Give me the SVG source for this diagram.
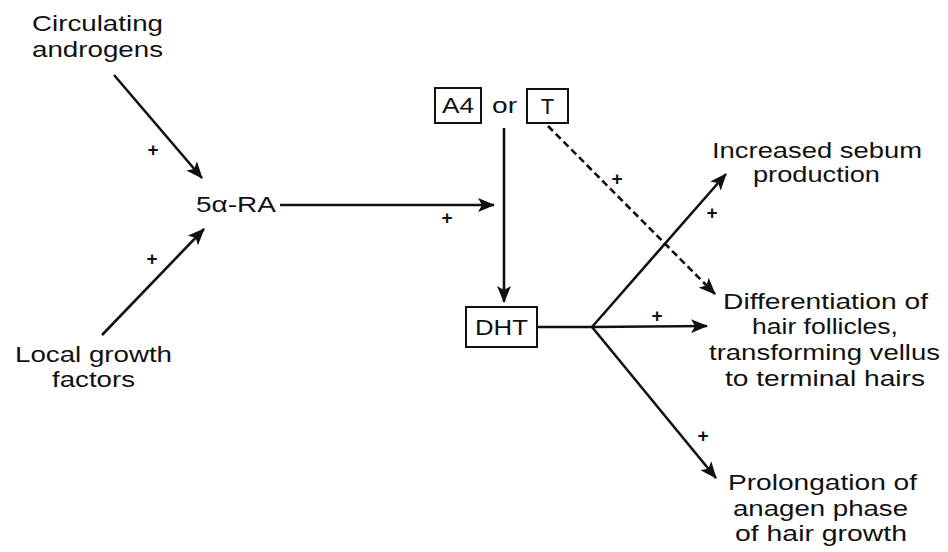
<svg xmlns="http://www.w3.org/2000/svg" width="948" height="552" viewBox="0 0 948 552">
<style>
text{font-family:"Liberation Sans",Arial,sans-serif;font-size:22px;fill:#111;text-anchor:middle}
.p{font-size:19px;font-weight:bold}
.ln{stroke:#111;stroke-width:2.6;fill:none}
.dash{stroke-dasharray:7 4}
.box{fill:#fff;stroke:#111;stroke-width:2}
</style>
<defs>
<marker id="ah" markerUnits="userSpaceOnUse" markerWidth="18" markerHeight="14" viewBox="0 0 18 14" refX="16" refY="7" orient="auto">
<path d="M0,0 L17,7 L0,14 L4,7 z" fill="#111"/>
</marker>
</defs>
<rect width="948" height="552" fill="#fff"/>
<g id="connectors">
<line class="ln" x1="114" y1="75" x2="202" y2="178" marker-end="url(#ah)"/>
<line class="ln" x1="102" y1="335" x2="204" y2="229" marker-end="url(#ah)"/>
<line class="ln" x1="280" y1="205" x2="494" y2="205" marker-end="url(#ah)"/>
<line class="ln" x1="504" y1="128" x2="504" y2="302" marker-end="url(#ah)"/>
<line class="ln dash" x1="548" y1="126" x2="715" y2="294" marker-end="url(#ah)"/>
<polyline class="ln" points="537,327 592,327"/>
<line class="ln" x1="592" y1="327" x2="726" y2="174" marker-end="url(#ah)"/>
<line class="ln" x1="592" y1="327" x2="707" y2="326" marker-end="url(#ah)"/>
<line class="ln" x1="592" y1="327" x2="716" y2="478" marker-end="url(#ah)"/>
<text class="p" x="153" y="156">+</text>
<text class="p" x="152" y="265">+</text>
<text class="p" x="447" y="224">+</text>
<text class="p" x="617" y="185">+</text>
<text class="p" x="712" y="219">+</text>
<text class="p" x="657" y="322">+</text>
<text class="p" x="703" y="442">+</text>
</g>
<g id="circulating">
<text x="97.5" y="31" textLength="131" lengthAdjust="spacingAndGlyphs">Circulating</text>
<text x="97.5" y="57" textLength="131" lengthAdjust="spacingAndGlyphs">androgens</text>
</g>
<g id="local">
<text x="93.5" y="362" textLength="157" lengthAdjust="spacingAndGlyphs">Local growth</text>
<text x="93.5" y="387" textLength="83" lengthAdjust="spacingAndGlyphs">factors</text>
</g>
<g id="ra">
<text x="236" y="212" textLength="80" lengthAdjust="spacingAndGlyphs">5α-RA</text>
</g>
<g id="a4">
<rect class="box" x="435" y="88" width="46" height="35"/>
<text x="458" y="113" textLength="32" lengthAdjust="spacingAndGlyphs">A4</text>
</g>
<g id="or">
<text x="504.5" y="113" textLength="25" lengthAdjust="spacingAndGlyphs">or</text>
</g>
<g id="t">
<rect class="box" x="527" y="89" width="41" height="34"/>
<text x="547.5" y="114">T</text>
</g>
<g id="dht">
<rect class="box" x="466" y="307" width="71" height="40"/>
<text x="501.5" y="335" textLength="53" lengthAdjust="spacingAndGlyphs">DHT</text>
</g>
<g id="sebum">
<text x="817" y="158" textLength="210" lengthAdjust="spacingAndGlyphs">Increased sebum</text>
<text x="816.5" y="182" textLength="127" lengthAdjust="spacingAndGlyphs">production</text>
</g>
<g id="differentiation">
<text x="825.5" y="309" textLength="205" lengthAdjust="spacingAndGlyphs">Differentiation of</text>
<text x="825" y="334" textLength="146" lengthAdjust="spacingAndGlyphs">hair follicles,</text>
<text x="824.5" y="360" textLength="231" lengthAdjust="spacingAndGlyphs">transforming vellus</text>
<text x="825" y="386" textLength="200" lengthAdjust="spacingAndGlyphs">to terminal hairs</text>
</g>
<g id="prolongation">
<text x="822.5" y="490" textLength="189" lengthAdjust="spacingAndGlyphs">Prolongation of</text>
<text x="820.5" y="516" textLength="175" lengthAdjust="spacingAndGlyphs">anagen phase</text>
<text x="821" y="541" textLength="172" lengthAdjust="spacingAndGlyphs">of hair growth</text>
</g>
</svg>
